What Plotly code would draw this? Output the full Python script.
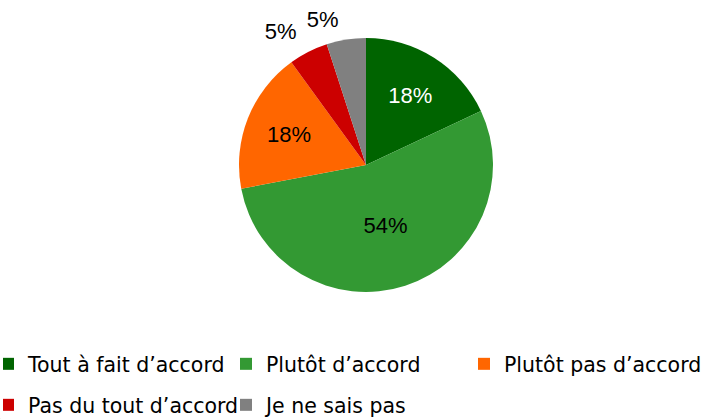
import plotly.graph_objects as go

labels = ["Tout à fait d’accord", "Plutôt d’accord", "Plutôt pas d’accord",
          "Pas du tout d’accord", "Je ne sais pas"]
values = [18, 54, 18, 5, 5]
colors = ["#006400", "#339933", "#FF6600", "#CC0000", "#808080"]
text_colors = ["white", "black", "black", "black", "black"]

W, H = 716, 419
CX, CY, R = 366, 165, 127


def domain(r):
    return dict(x=[(CX - r) / W, (CX + r) / W], y=[(H - CY - r) / H, (H - CY + r) / H])


fig = go.Figure()

# the pie itself, inside labels only
fig.add_trace(go.Pie(
    labels=labels, values=values,
    marker=dict(colors=colors, line=dict(width=0)),
    sort=False, direction="clockwise", rotation=0,
    texttemplate="%{value}%",
    textposition=["inside", "inside", "inside", "none", "none"],
    textfont=dict(family="Liberation Sans", size=22, color=text_colors),
    insidetextorientation="horizontal",
    domain=domain(R), showlegend=False, hoverinfo="label+percent",
))

# the two small outside labels, each on its own transparent copy so they
# are not pushed apart with a connector line
for idx, r in [(3, R + 12), (4, R + 8)]:
    pos = ["none"] * len(values)
    pos[idx] = "outside"
    fig.add_trace(go.Pie(
        labels=labels, values=values,
        marker=dict(colors=["rgba(0,0,0,0)"] * len(values), line=dict(width=0)),
        sort=False, direction="clockwise", rotation=0,
        texttemplate="%{value}%", textposition=pos,
        textfont=dict(family="Liberation Sans", size=22, color="black"),
        domain=domain(r), showlegend=False, hoverinfo="skip",
    ))

# legend rows (tiny pies, only used for the two legend rows)
for sl, leg in [(slice(0, 3), "legend"), (slice(3, 5), "legend2")]:
    fig.add_trace(go.Pie(
        labels=labels[sl], values=values[sl],
        marker=dict(colors=colors[sl], line=dict(width=0)),
        sort=False, textinfo="none", hoverinfo="skip",
        domain=dict(x=[0, 0.0005], y=[0, 0.0005]),
        legend=leg,
    ))

legend_style = dict(
    orientation="h", xanchor="left", yanchor="middle", x=3 / W,
    indentation=-15,
    entrywidth=208, entrywidthmode="pixels",
    font=dict(family="DejaVu Sans", size=20.5, color="black"),
    bgcolor="rgba(0,0,0,0)",
)

fig.update_layout(
    width=W, height=H,
    margin=dict(l=0, r=0, t=0, b=0, autoexpand=False),
    paper_bgcolor="white",
    legend=dict(legend_style, y=(H - 364) / H),
    legend2=dict(legend_style, y=(H - 405) / H),
)

fig.write_html("out.html", config={"displayModeBar": False},
               post_script="document.body.style.margin='0';")
